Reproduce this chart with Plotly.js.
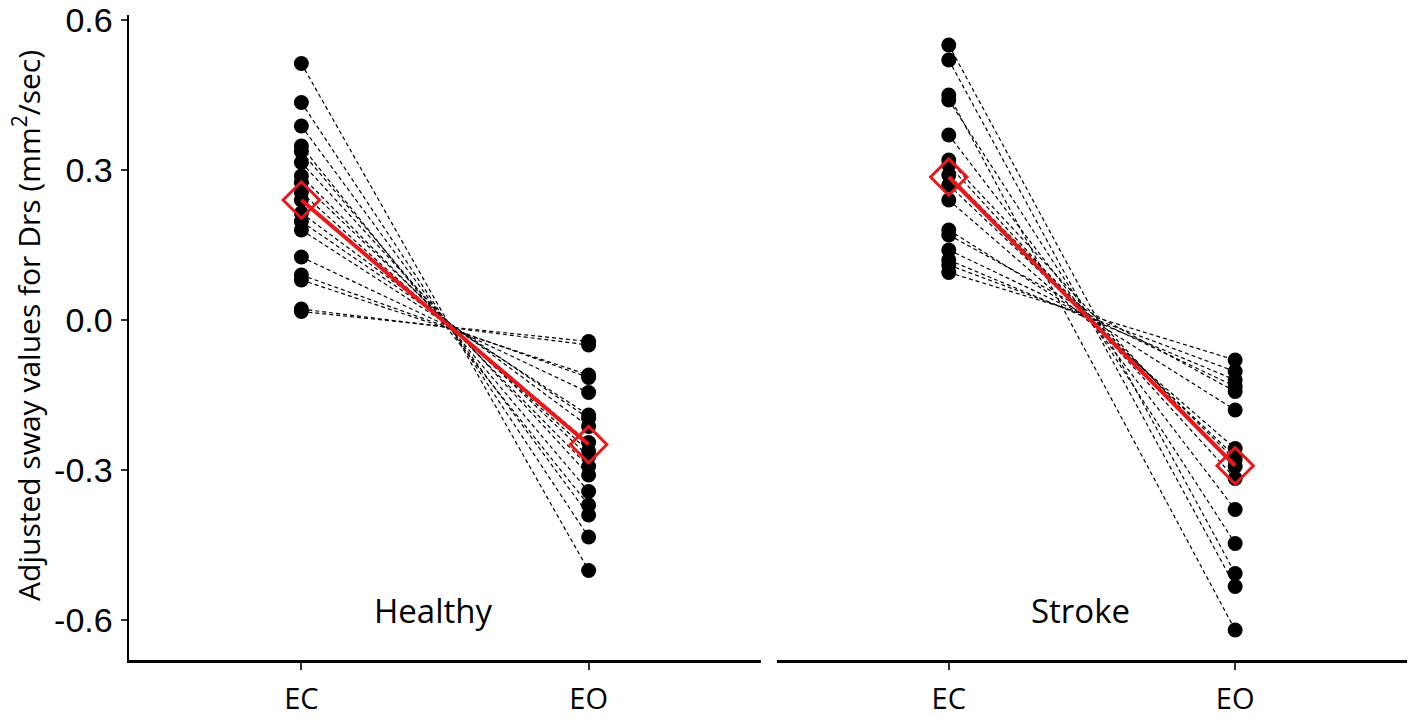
<!DOCTYPE html>
<html>
<head>
<meta charset="utf-8">
<script src="https://cdn.plot.ly/plotly-3.0.1.min.js"></script>
<style>
  html, body { margin: 0; padding: 0; background: #fff; }
  #chart { width: 1417px; height: 718px; }
</style>
</head>
<body>
<div id="chart"></div>
<script>
// conditions on the x axis
const conditions = ['EC', 'EO'];
const groups = ['Healthy', 'Stroke'];

// per-subject adjusted sway values, paired by index (EC -> EO)
const healthyEC = [0.513, 0.435, 0.388, 0.348, 0.337, 0.315, 0.288, 0.275, 0.255, 0.240, 0.214, 0.197, 0.180, 0.126, 0.090, 0.080, 0.022, 0.017];
const healthyEO = [-0.501, -0.434, -0.390, -0.370, -0.343, -0.310, -0.293, -0.273, -0.262, -0.245, -0.213, -0.197, -0.190, -0.145, -0.115, -0.110, -0.050, -0.043];

const strokeEC = [0.550, 0.520, 0.450, 0.440, 0.370, 0.320, 0.310, 0.290, 0.270, 0.240, 0.180, 0.170, 0.140, 0.120, 0.110, 0.095];
const strokeEO = [-0.507, -0.533, -0.620, -0.447, -0.379, -0.293, -0.317, -0.280, -0.273, -0.257, -0.180, -0.143, -0.133, -0.120, -0.103, -0.080];

const yTicks = [-0.6, -0.3, 0.0, 0.3, 0.6];

const mean = arr => arr.reduce((a, b) => a + b, 0) / arr.length;

function panelTraces(ec, eo, xa, ya) {
    const lx = [], ly = [];
    ec.forEach((v, i) => {
        lx.push(1, 2, null);
        ly.push(v, eo[i], null);
    });
    const pairs = {
        x: lx, y: ly, xaxis: xa, yaxis: ya,
        type: 'scatter', mode: 'lines', hoverinfo: 'skip',
        line: { color: '#000', width: 1.2, dash: '4px,3px' }
    };
    const dots = {
        x: ec.map(() => 1).concat(eo.map(() => 2)),
        y: ec.concat(eo),
        xaxis: xa, yaxis: ya,
        type: 'scatter', mode: 'markers',
        marker: { color: '#000', size: 15 }
    };
    const means = [mean(ec), mean(eo)];
    const meanLine = {
        x: [1, 2], y: means, xaxis: xa, yaxis: ya,
        type: 'scatter', mode: 'lines',
        line: { color: '#e8191c', width: 4 }
    };
    const meanPts = {
        x: [1, 2], y: means, xaxis: xa, yaxis: ya,
        type: 'scatter', mode: 'markers',
        marker: { symbol: 'diamond-open', size: 28, color: '#e8191c', line: { color: '#e8191c', width: 3 } }
    };
    return [pairs, dots, meanLine, meanPts];
}

const data = panelTraces(healthyEC, healthyEO, 'x', 'y')
    .concat(panelTraces(strokeEC, strokeEO, 'x2', 'y2'));

const xBase = {
    range: [0.4, 2.6],
    tickvals: [1, 2],
    ticktext: conditions,
    showline: true, linecolor: '#000', linewidth: 2.5,
    ticks: 'outside', ticklen: 7, tickwidth: 2, tickcolor: '#333',
    ticklabelstandoff: 5,
    showgrid: false, zeroline: false,
    tickfont: { family: 'Open Sans', size: 29, color: '#000' }
};

const yRange = [-0.68, 0.61];

const layout = {
    width: 1417, height: 718,
    margin: { l: 129, r: 10, t: 15, b: 58 },
    paper_bgcolor: '#fff', plot_bgcolor: '#fff',
    showlegend: false,
    xaxis: Object.assign({}, xBase, { domain: [0, 0.4945], anchor: 'y' }),
    xaxis2: Object.assign({}, xBase, { domain: [0.507, 1], anchor: 'y2' }),
    yaxis: {
        range: yRange, domain: [0, 1], anchor: 'x',
        tickvals: yTicks, ticktext: yTicks.map(v => v.toFixed(1)),
        showline: true, linecolor: '#000', linewidth: 2.5,
        ticks: 'outside', ticklen: 6, tickwidth: 2, tickcolor: '#333',
        ticklabelstandoff: 1,
        showgrid: false, zeroline: false,
        tickfont: { family: 'Liberation Sans', size: 34, color: '#000' }
    },
    yaxis2: {
        range: yRange, domain: [0, 1], anchor: 'x2',
        showline: false, showticklabels: false, ticks: '',
        showgrid: false, zeroline: false
    },
    annotations: [
        {
            text: 'Adjusted sway values for Drs (mm<sup>2</sup>/sec)',
            xref: 'paper', yref: 'paper', x: -0.0798, y: 0.518,
            xanchor: 'center', yanchor: 'middle', textangle: -90, showarrow: false,
            font: { family: 'Open Sans', size: 30, color: '#000' }
        },
        {
            text: groups[0], xref: 'x', yref: 'y', x: 1.46, y: -0.58,
            xanchor: 'center', yanchor: 'middle', showarrow: false,
            font: { family: 'Open Sans', size: 33, color: '#000' }
        },
        {
            text: groups[1], xref: 'x2', yref: 'y2', x: 1.46, y: -0.58,
            xanchor: 'center', yanchor: 'middle', showarrow: false,
            font: { family: 'Open Sans', size: 33, color: '#000' }
        }
    ]
};

Plotly.newPlot('chart', data, layout, { displayModeBar: false, staticPlot: true });
</script>
</body>
</html>
